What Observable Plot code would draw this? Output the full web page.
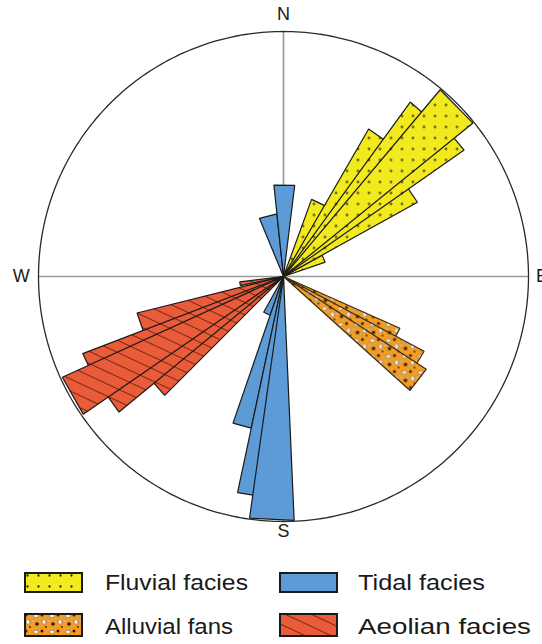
<!DOCTYPE html>
<html><head><meta charset="utf-8">
<script src="https://cdn.jsdelivr.net/npm/d3@7"></script>
<script src="https://cdn.jsdelivr.net/npm/@observablehq/plot@0.6"></script>
<style>
body{margin:0;background:#fff;font-family:"Liberation Sans",Arial,sans-serif;}
#chart svg,#legend svg{display:block}
</style></head><body>
<svg width="0" height="0" style="position:absolute">
<defs>
<pattern id="dots" patternUnits="userSpaceOnUse" width="11" height="11">
  <rect width="11" height="11" fill="#f2ea1d"/><circle cx="5.5" cy="5.5" r="1.15" fill="#222"/>
</pattern>
<pattern id="hatch" patternUnits="userSpaceOnUse" width="12" height="11" patternTransform="rotate(25)">
  <rect width="12" height="11" fill="#e95b39"/><line x1="0" y1="5.5" x2="12" y2="5.5" stroke="#6b2410" stroke-width="0.9"/>
</pattern>
<pattern id="gravel" patternUnits="userSpaceOnUse" width="16" height="16">
  <rect width="16" height="16" fill="#f49d22"/>
  <ellipse cx="4" cy="4" rx="2.4" ry="1.8" fill="#f4f4f4" stroke="#555" stroke-width="0.5"/>
  <ellipse cx="12" cy="10" rx="2" ry="2.4" fill="#f4f4f4" stroke="#555" stroke-width="0.5"/>
  <circle cx="10" cy="3" r="1.5" fill="#222"/>
  <circle cx="5" cy="12" r="1.8" fill="#222"/>
  <circle cx="14" cy="15" r="0.9" fill="#222"/>
  <ellipse cx="1" cy="9" rx="1.3" ry="1.1" fill="#f4f4f4" stroke="#555" stroke-width="0.4"/>
</pattern>
</defs></svg>
<div id="chart"></div>
<div id="legend"></div>
<script>
// ---- data (azimuth in degrees clockwise from N, length in % of outer circle) ----
const fluvialStart = [20, 30, 36, 40, 45, 51, 61];
const fluvialEnd   = [31, 40, 46, 51, 55, 61, 71];
const fluvialLen   = [33.5, 69.5, 88, 99.5, 90, 62.5, 18];

const alluvialStart = [114, 118, 123];
const alluvialEnd   = [121, 124, 132];
const alluvialLen   = [52, 65, 69.5];

const tidalStart = [354, 337.5, 199, 192, 186, 177.5];
const tidalEnd   = [367, 354, 209, 199, 192, 188];
const tidalLen   = [37.5, 25.7, 16.7, 63.3, 90.2, 99.6];

const aeolianStart = [258, 246, 240, 235.5, 230.5, 225];
const aeolianEnd   = [263, 256, 249, 245.5, 238, 232];
const aeolianLen   = [18, 61.6, 87.8, 99.2, 87, 68.6];

const compassLabels = ["N", "E", "S", "W"];
const compassAz = [0, 90, 180, 270];
const compassR = [107, 105.5, 104, 107];

const legendNames = ["Fluvial facies", "Tidal facies", "Alluvial fans", "Aeolian facies"];

// ---- geometry helpers ----
const W = 542, H = 548, cx = 283, cy = 276, PX = 2.45; // px per % unit
const rad = a => a * Math.PI / 180;
function petals(name, starts, ends, lens) {
  const rows = [];
  starts.map((s, i) => ({s, e: ends[i], l: lens[i], i}))
    .sort((a, b) => a.l - b.l)
    .forEach(p => {
      const pts = [[0, 0], [p.l * Math.sin(rad(p.s)), p.l * Math.cos(rad(p.s))],
                   [p.l * Math.sin(rad(p.e)), p.l * Math.cos(rad(p.e))], [0, 0]];
      pts.forEach(([x, y]) => rows.push({facies: name, petal: name + p.i, x, y}));
    });
  return rows;
}
const circle = d3.range(0, 361, 1).map(a => ({x: 100 * Math.sin(rad(a)), y: 100 * Math.cos(rad(a))}));
const compass = compassLabels.map((t, i) => ({t, x: compassR[i] * Math.sin(rad(compassAz[i])), y: compassR[i] * Math.cos(rad(compassAz[i]))}));

const petalStyle = {x: "x", y: "y", z: "petal", stroke: "#1a1a1a", strokeWidth: 1.2, strokeLinejoin: "miter", strokeLinecap: "butt", curve: "linear"};

const chart = Plot.plot({
  width: W, height: H, margin: 0,
  style: {fontFamily: "'Liberation Sans', Arial, sans-serif", background: "#fff"},
  x: {domain: [-cx / PX, (W - cx) / PX], axis: null},
  y: {domain: [-(H - cy) / PX, cy / PX], axis: null},
  marks: [
    Plot.ruleX([0], {y1: -100, y2: 100, stroke: "#9a9a9a", strokeWidth: 1.7}),
    Plot.ruleY([0], {x1: -100, x2: 100, stroke: "#9a9a9a", strokeWidth: 1.7}),
    Plot.line(circle, {x: "x", y: "y", stroke: "#2a2a2a", strokeWidth: 1.3}),
    Plot.line(petals("fluvial", fluvialStart, fluvialEnd, fluvialLen), {...petalStyle, fill: "url(#dots)"}),
    Plot.line(petals("alluvial", alluvialStart, alluvialEnd, alluvialLen), {...petalStyle, fill: "url(#gravel)", stroke: "#3a2a10"}),
    Plot.line(petals("aeolian", aeolianStart, aeolianEnd, aeolianLen), {...petalStyle, fill: "url(#hatch)"}),
    Plot.line(petals("tidal", tidalStart, tidalEnd, tidalLen), {...petalStyle, fill: "#5c9bd6"}),
    Plot.text(compass, {x: "x", y: "y", text: "t", fontSize: 18, fill: "#1a1a1a"})
  ]
});
document.getElementById("chart").appendChild(chart);

// ---- legend ----
const fills = ["url(#dots)", "#5c9bd6", "url(#gravel)", "url(#hatch)"];
const lens = [143, 127, 128, 173];
const ns = "http://www.w3.org/2000/svg";
const lg = document.createElementNS(ns, "svg");
lg.setAttribute("width", W); lg.setAttribute("height", 96);
legendNames.forEach((name, i) => {
  const col = i % 2, row = Math.floor(i / 2);
  const sx = col ? 280 : 25, tx = col ? 358 : 105;
  const sy = row ? 66 : 25;
  const r = document.createElementNS(ns, "rect");
  r.setAttribute("x", sx); r.setAttribute("y", sy); r.setAttribute("width", 57); r.setAttribute("height", row ? 22 : 19);
  r.setAttribute("fill", fills[i]); r.setAttribute("stroke", "#1a1a1a"); r.setAttribute("stroke-width", 2);
  lg.appendChild(r);
  const t = document.createElementNS(ns, "text");
  t.setAttribute("x", tx); t.setAttribute("y", row ? 86 : 42);
  t.setAttribute("font-size", 21.5); t.setAttribute("fill", "#1a1a1a");
  t.setAttribute("textLength", lens[i]); t.setAttribute("lengthAdjust", "spacingAndGlyphs");
  t.textContent = name;
  lg.appendChild(t);
});
document.getElementById("legend").appendChild(lg);
</script>
</body></html>
